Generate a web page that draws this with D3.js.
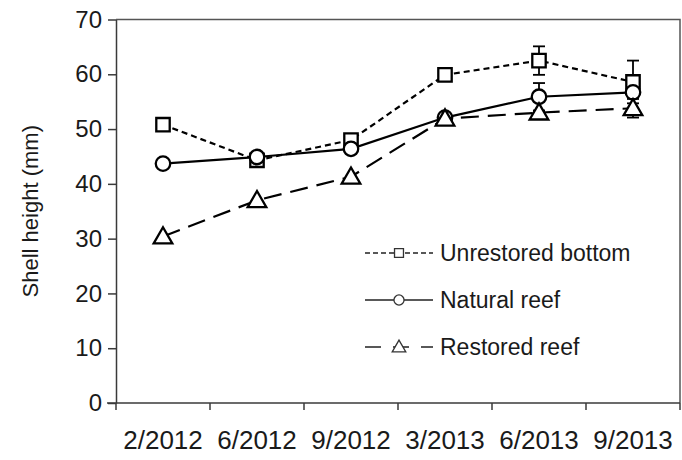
<!DOCTYPE html>
<html>
<head>
<meta charset="utf-8">
<script src="https://cdn.jsdelivr.net/npm/d3@7"></script>
<style>
  html, body { margin: 0; padding: 0; background: #fff; }
  svg { display: block; font-family: "Liberation Sans", Arial, sans-serif; }
</style>
</head>
<body>
<svg id="chart" width="682" height="460"></svg>
<script>
// Sampling dates
const categories = ["2/2012", "6/2012", "9/2012", "3/2013", "6/2013", "9/2013"];

// Mean shell height (mm) per site type
const unrestored = [50.8, 44.3, 48.0, 59.9, 62.5, 58.6];
const natural    = [43.7, 44.9, 46.4, 52.1, 55.9, 56.7];
const restored   = [30.4, 37.0, 41.3, 51.9, 53.0, 53.8];

// Standard errors (null = not drawn)
const unrestoredErr = [null, null, null, null, 2.6, 3.9];
const naturalErr    = [null, null, null, null, 2.5, null];
const restoredErr   = [null, null, null, null, null, 1.7];

const yTicks = [0, 10, 20, 30, 40, 50, 60, 70];

const series = [
  { name: "Unrestored bottom", values: unrestored, err: unrestoredErr, symbol: d3.symbolSquare, dash: "6,4" },
  { name: "Natural reef",      values: natural,    err: naturalErr,    symbol: d3.symbolCircle, dash: null },
  { name: "Restored reef",     values: restored,   err: restoredErr,   symbol: d3.symbolTriangle, dash: "18,9" }
];

const svg = d3.select("#chart");
const plotL = 116, plotR = 680, plotT = 19.5, plotB = 403;

const x = d3.scaleBand().domain(categories).range([plotL, plotR]).padding(0);
const y = d3.scaleLinear().domain([0, 70]).range([plotB, plotT]);
const cx = d => x(d) + x.bandwidth() / 2;

const axisColor = "#3a3a3a";
const textColor = "#1a1a1a";
const fontFam = "'Liberation Sans', Arial, sans-serif";

// Plot frame (top and right edges)
svg.append("path")
  .attr("d", `M${plotL},${plotT}H${plotR}V${plotB}`)
  .attr("fill", "none")
  .attr("stroke", "#555")
  .attr("stroke-width", 1.5);

// Y axis
const yAxis = svg.append("g")
  .attr("transform", `translate(${plotL},0)`)
  .call(d3.axisLeft(y).tickValues(yTicks).tickSize(8).tickPadding(6).tickSizeOuter(0));
yAxis.select(".domain").attr("stroke", axisColor).attr("stroke-width", 1.5);
yAxis.selectAll(".tick line").attr("stroke", axisColor).attr("stroke-width", 1.5);
yAxis.selectAll(".tick text")
  .attr("fill", textColor)
  .style("font-size", "24px")
  .style("font-family", fontFam);

// X axis line, extending slightly left of the y axis
svg.append("line")
  .attr("x1", plotL - 9).attr("x2", plotR)
  .attr("y1", plotB).attr("y2", plotB)
  .attr("stroke", axisColor).attr("stroke-width", 1.5);

// X ticks at band boundaries
const boundaries = categories.map(c => x(c)).concat([plotR]);
svg.append("g").selectAll("line")
  .data(boundaries)
  .join("line")
  .attr("x1", d => d).attr("x2", d => d)
  .attr("y1", plotB).attr("y2", plotB + 7)
  .attr("stroke", axisColor).attr("stroke-width", 1.5);

// X labels centred in each band
const xAxis = svg.append("g")
  .attr("transform", `translate(0,${plotB})`)
  .call(d3.axisBottom(x).tickSize(0).tickPadding(28));
xAxis.select(".domain").remove();
xAxis.selectAll(".tick text")
  .attr("fill", textColor)
  .style("font-size", "26px")
  .style("font-family", fontFam);

// Y axis title
svg.append("text")
  .attr("transform", `translate(38,${(plotT + plotB) / 2}) rotate(-90)`)
  .attr("text-anchor", "middle")
  .attr("fill", textColor)
  .style("font-size", "22px")
  .text("Shell height (mm)");

const line = d3.line().x((d, i) => cx(categories[i])).y(d => y(d));

series.forEach(s => {
  const g = svg.append("g");
  g.append("path")
    .datum(s.values)
    .attr("d", line)
    .attr("fill", "none")
    .attr("stroke", "#000")
    .attr("stroke-width", 2.2)
    .attr("stroke-dasharray", s.dash);

  // Error bars with caps
  const eb = s.values.map((v, i) => ({ v, e: s.err[i], c: categories[i] })).filter(d => d.e != null);
  const ebg = g.selectAll(".eb").data(eb).join("g");
  ebg.append("line")
    .attr("x1", d => cx(d.c)).attr("x2", d => cx(d.c))
    .attr("y1", d => y(d.v + d.e)).attr("y2", d => y(d.v - d.e))
    .attr("stroke", "#000").attr("stroke-width", 1.8);
  [1, -1].forEach(sgn => {
    ebg.append("line")
      .attr("x1", d => cx(d.c) - 6).attr("x2", d => cx(d.c) + 6)
      .attr("y1", d => y(d.v + sgn * d.e)).attr("y2", d => y(d.v + sgn * d.e))
      .attr("stroke", "#000").attr("stroke-width", 1.8);
  });

  const size = s.symbol === d3.symbolTriangle ? 150 : (s.symbol === d3.symbolSquare ? 180 : 165);
  g.selectAll(".m").data(s.values).join("path")
    .attr("transform", (d, i) => `translate(${cx(categories[i])},${y(d) + (s.symbol === d3.symbolTriangle ? 1.5 : 0)})`)
    .attr("d", d3.symbol(s.symbol, size))
    .attr("fill", "#fff")
    .attr("stroke", "#000")
    .attr("stroke-width", 2.3);
});

// Legend
const legend = svg.append("g");
const legRows = [253, 300, 347];
series.forEach((s, i) => {
  const yy = legRows[i];
  legend.append("line")
    .attr("x1", 365).attr("x2", 433)
    .attr("y1", yy).attr("y2", yy)
    .attr("stroke", "#222").attr("stroke-width", 1.6)
    .attr("stroke-dasharray", s.dash ? (i === 0 ? "5,3" : "16,12") : null);
  legend.append("path")
    .attr("transform", `translate(399,${yy + (s.symbol === d3.symbolTriangle ? 1 : 0)})`)
    .attr("d", d3.symbol(s.symbol, 80))
    .attr("fill", "#fff")
    .attr("stroke", "#333")
    .attr("stroke-width", 1.3);
  legend.append("text")
    .attr("x", 440).attr("y", yy)
    .attr("dy", "0.35em")
    .attr("fill", textColor)
    .style("font-size", "23px")
    .text(s.name);
});
</script>
</body>
</html>
